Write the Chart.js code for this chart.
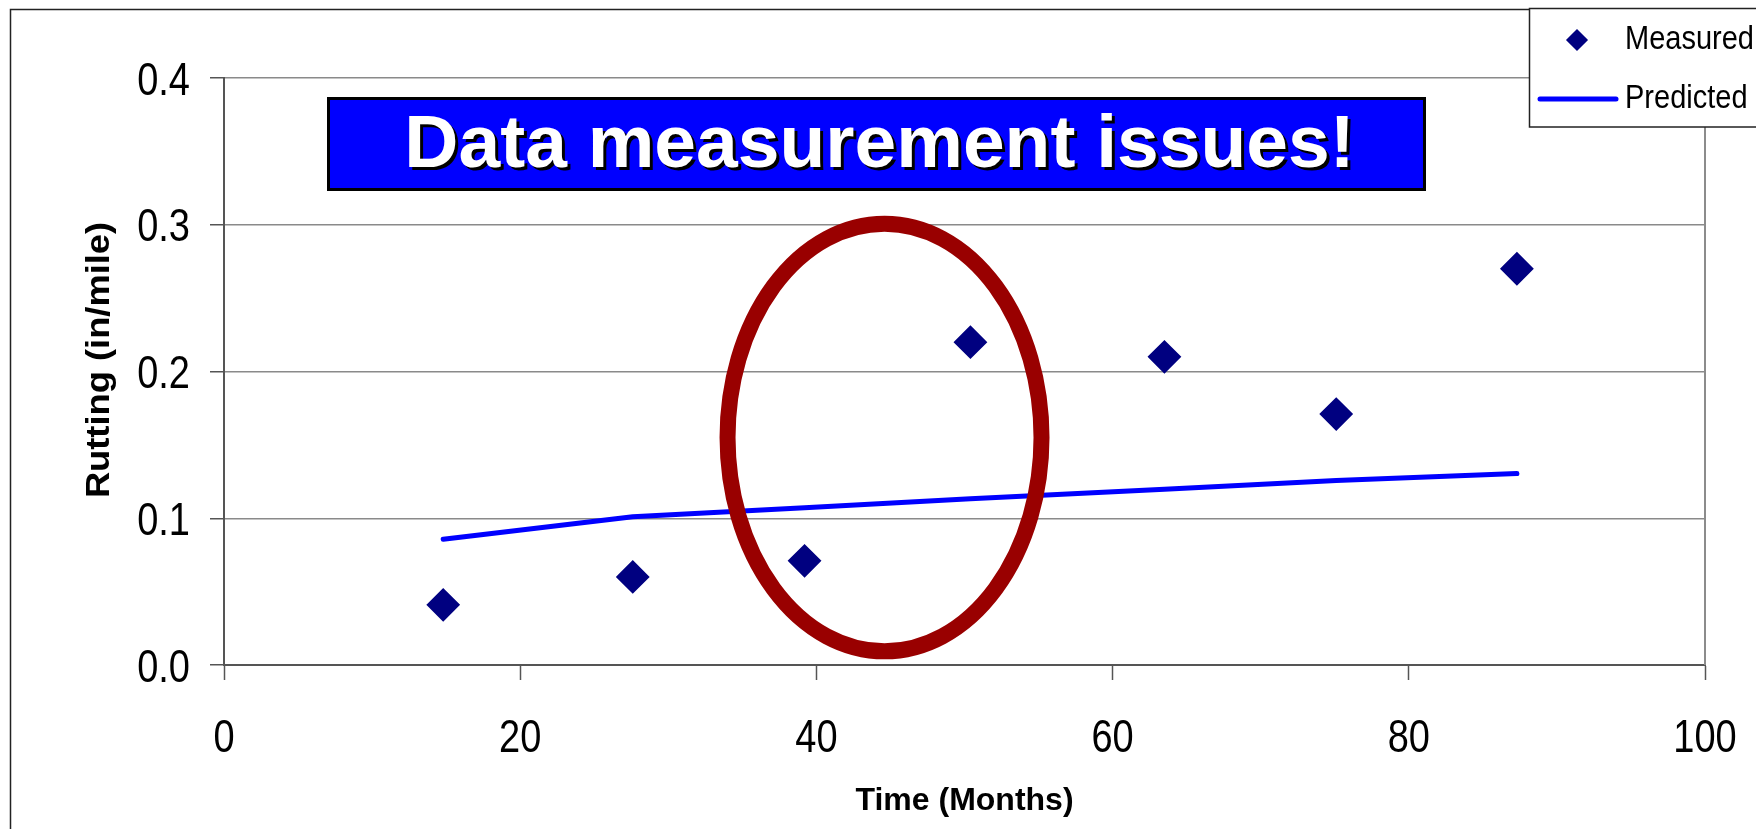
<!DOCTYPE html>
<html>
<head>
<meta charset="utf-8">
<script src="https://cdn.jsdelivr.net/npm/chart.js@4.4.1/dist/chart.umd.min.js"></script>
<style>
  html, body { margin: 0; padding: 0; background: #fff; overflow: hidden; }
  #chart { display: block; }
</style>
</head>
<body>
<canvas id="chart" width="1756" height="829"></canvas>
<script>
const months = [14.8, 27.6, 39.2, 50.4, 63.5, 75.1, 87.3];
const measured = [0.041, 0.060, 0.071, 0.220, 0.210, 0.171, 0.270];
const predicted = [0.0857, 0.1010, 0.1072, 0.1133, 0.1198, 0.1258, 0.1305];
const xTicks = [0, 20, 40, 60, 80, 100];
const yTicks = [0.0, 0.1, 0.2, 0.3, 0.4];
const seriesNames = ['Measured', 'Predicted'];
const xTitle = 'Time (Months)';
const yTitle = 'Rutting (in/mile)';
const bannerText = 'Data measurement issues!';

// red ring around the readings near 40-50 months (data units)
const ring = { x: 44.6, y: 0.155, rx: 10.6, ry: 0.1457 };

const SANS = '"Liberation Sans", Arial, sans-serif';

// text squeezed sideways like the old office fonts
function tallText(ctx, text, x, y, stretch) {
  ctx.save();
  ctx.translate(x, y);
  ctx.scale(1, stretch);
  ctx.fillText(text, 0, 0);
  ctx.restore();
}

// outer frame of the picture and right edge of the plot box
const framePlugin = {
  id: 'frame',
  beforeDraw(chart) {
    const ctx = chart.ctx;
    ctx.save();
    ctx.strokeStyle = '#222';
    ctx.lineWidth = 1.5;
    ctx.beginPath();
    ctx.moveTo(10.5, chart.height);
    ctx.lineTo(10.5, 9.5);
    ctx.lineTo(chart.width, 9.5);
    ctx.stroke();
    ctx.restore();
  },
  beforeDatasetsDraw(chart) {
    const { ctx, chartArea: a } = chart;
    ctx.save();
    ctx.strokeStyle = '#8c8c8c';
    ctx.lineWidth = 2;
    ctx.beginPath();
    ctx.moveTo(a.right, a.top);
    ctx.lineTo(a.right, a.bottom);
    ctx.stroke();
    ctx.restore();
  }
};

const ringPlugin = {
  id: 'ring',
  afterDatasetsDraw(chart) {
    const { ctx, scales: { x, y } } = chart;
    const cx = x.getPixelForValue(ring.x);
    const cy = y.getPixelForValue(ring.y);
    const rx = x.getPixelForValue(ring.x + ring.rx) - cx;
    const ry = cy - y.getPixelForValue(ring.y + ring.ry);
    ctx.save();
    ctx.strokeStyle = '#990000';
    ctx.lineWidth = 16;
    ctx.beginPath();
    ctx.ellipse(cx, cy, rx, ry, 0, 0, Math.PI * 2);
    ctx.stroke();
    ctx.restore();
  }
};

const overlayPlugin = {
  id: 'overlay',
  afterDraw(chart) {
    const { ctx, chartArea: a, scales } = chart;
    ctx.save();
    ctx.fillStyle = '#000';

    // tick labels
    ctx.font = '38px ' + SANS;
    ctx.textBaseline = 'alphabetic';
    ctx.textAlign = 'right';
    yTicks.forEach(v => {
      const py = scales.y.getPixelForValue(v);
      tallText(ctx, v.toFixed(1), 190, py + 16.5, 1.2);
    });
    ctx.textAlign = 'center';
    xTicks.forEach(v => {
      const px = scales.x.getPixelForValue(v);
      tallText(ctx, String(v), px, 752, 1.2);
    });

    // axis titles
    ctx.font = 'bold 32px ' + SANS;
    ctx.textAlign = 'center';
    ctx.fillText(xTitle, (a.left + a.right) / 2, 810);

    ctx.save();
    ctx.translate(108.5, 360);
    ctx.rotate(-Math.PI / 2);
    ctx.scale(1.1, 1);
    ctx.font = 'bold 33px ' + SANS;
    ctx.fillText(yTitle, 0, 0);
    ctx.restore();

    // banner
    const bx = a.left + 103, by = a.top + 19, bw = 1099, bh = 94;
    ctx.fillStyle = '#0000ff';
    ctx.fillRect(bx, by, bw, bh);
    ctx.strokeStyle = '#000';
    ctx.lineWidth = 3;
    ctx.strokeRect(bx + 1.5, by + 1.5, bw - 3, bh - 3);
    ctx.font = 'bold 75px ' + SANS;
    ctx.textAlign = 'center';
    ctx.fillStyle = '#000';
    ctx.fillText(bannerText, bx + bw / 2 + 6, by + 73);
    ctx.fillStyle = '#fff';
    ctx.fillText(bannerText, bx + bw / 2 + 3, by + 70);

    // legend
    const lx = 1529.5, ly = 8.5;
    ctx.fillStyle = '#fff';
    ctx.fillRect(lx, ly, 300, 118.5);
    ctx.strokeStyle = '#222';
    ctx.lineWidth = 1.5;
    ctx.strokeRect(lx, ly, 300, 118.5);

    const ds = chart.data.datasets;
    ctx.fillStyle = ds[0].backgroundColor;
    ctx.strokeStyle = ds[0].borderColor;
    Chart.helpers.drawPoint(ctx, { pointStyle: 'rectRot', radius: 10, borderWidth: 1, rotation: 0 }, 1577, 40);

    ctx.strokeStyle = ds[1].borderColor;
    ctx.lineWidth = ds[1].borderWidth;
    ctx.lineCap = 'round';
    ctx.beginPath();
    ctx.moveTo(1540, 99);
    ctx.lineTo(1616, 99);
    ctx.stroke();

    ctx.fillStyle = '#000';
    ctx.textAlign = 'left';
    ctx.font = '29px ' + SANS;
    tallText(ctx, ds[0].label, 1625, 49, 1.14);
    tallText(ctx, ds[1].label, 1625, 108, 1.14);

    ctx.restore();
  }
};

const ctx = document.getElementById('chart').getContext('2d');

new Chart(ctx, {
  type: 'scatter',
  data: {
    datasets: [
      {
        label: seriesNames[0],
        data: months.map((m, i) => ({ x: m, y: measured[i] })),
        pointStyle: 'rectRot',
        pointRadius: 15.5,
        pointHoverRadius: 15.5,
        backgroundColor: '#000080',
        borderColor: '#000080',
        borderWidth: 2,
        showLine: false,
        order: 0
      },
      {
        label: seriesNames[1],
        data: months.map((m, i) => ({ x: m, y: predicted[i] })),
        showLine: true,
        borderColor: '#0000ff',
        backgroundColor: '#0000ff',
        borderWidth: 5,
        borderCapStyle: 'round',
        borderJoinStyle: 'round',
        pointRadius: 0,
        pointHoverRadius: 0,
        tension: 0,
        fill: false,
        order: 1
      }
    ]
  },
  options: {
    responsive: false,
    animation: false,
    devicePixelRatio: 1,
    layout: { padding: { top: 78, right: 51, left: 0, bottom: 0 } },
    plugins: {
      legend: { display: false },
      tooltip: { enabled: false }
    },
    scales: {
      x: {
        type: 'linear',
        min: 0,
        max: 100,
        afterBuildTicks: s => { s.ticks = xTicks.map(v => ({ value: v })); },
        afterFit: s => { s.height = 164; },
        ticks: { display: false },
        grid: { drawOnChartArea: false, tickLength: 15, tickColor: '#555', tickWidth: 1.5 },
        border: { color: '#555', width: 2 }
      },
      y: {
        type: 'linear',
        min: 0,
        max: 0.4,
        afterBuildTicks: s => { s.ticks = yTicks.map(v => ({ value: v })); },
        afterFit: s => { s.width = 224; },
        ticks: { display: false },
        grid: { color: '#8a8a8a', lineWidth: 1.5, tickLength: 14, tickColor: '#555' },
        border: { color: '#555', width: 2 }
      }
    }
  },
  plugins: [framePlugin, ringPlugin, overlayPlugin]
});
</script>
</body>
</html>
